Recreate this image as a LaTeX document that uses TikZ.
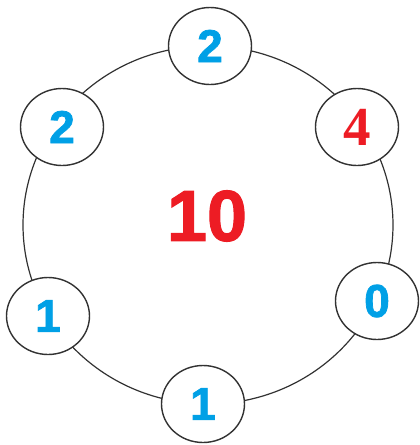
\documentclass[tikz,border=0pt]{standalone}
\usepackage{fontspec}
\setmainfont{Liberation Sans}
\newfontfamily\heavysans{Liberation Sans Bold}[FakeBold=1.6]
\newfontfamily\seriffam{Liberation Serif}
\usetikzlibrary{shapes.geometric}
\definecolor{numblue}{RGB}{0,160,230}
\definecolor{numred}{RGB}{237,28,36}
\definecolor{linegray}{RGB}{50,50,50}
\begin{document}
\begin{tikzpicture}[x=1pt,y=-1pt,
  valnode/.style={ellipse,draw=linegray,line width=1.4pt,fill=white,minimum width=83pt,minimum height=77pt,inner sep=0pt},
  bluenum/.style={text=numblue,font=\heavysans\fontsize{46}{46}\selectfont},
  rednum/.style={text=numred,font=\seriffam\bfseries\fontsize{55}{55}\selectfont}]
\useasboundingbox (0,0) rectangle (420,445);
\draw[linegray,line width=1.2pt] (208,225) ellipse [x radius=185, y radius=179];
\node[valnode,bluenum] (top) at (210,46) {2};
\node[valnode,bluenum] (lt) at (62,127) {2};
\node[valnode,rednum] (rt) at (357,127) {4};
\node[valnode,bluenum] (lb) at (48,316) {1};
\node[valnode,bluenum] (rb) at (377,301) {0};
\node[valnode,bluenum] (bot) at (203,404) {1};
\node[text=numred,font=\heavysans\fontsize{72}{72}\selectfont] (sum) at (207,216) {10};
\end{tikzpicture}
\end{document}
